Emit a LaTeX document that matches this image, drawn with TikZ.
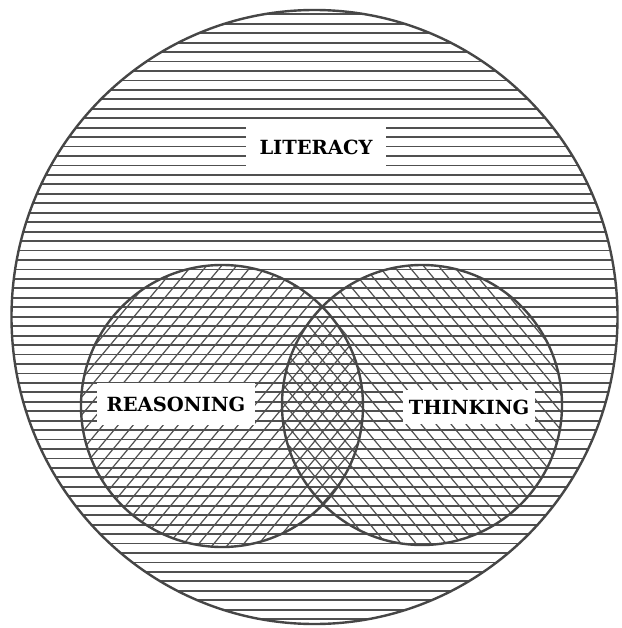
\documentclass[tikz,border=0pt]{standalone}
\usepackage{fontspec}
\setmainfont{DejaVu Serif}
\definecolor{hatch}{RGB}{80,80,80}
\definecolor{rimc}{RGB}{70,70,70}
\tikzset{
  hline/.style={draw=hatch, line width=1.8pt},
  dline/.style={draw=hatch, line width=1.2pt},
  rim/.style={draw=rimc, line width=2.4pt},
  setlabel/.style={fill=white, inner sep=0pt, text=black,
    font=\fontsize{19.5}{20}\selectfont\bfseries},
}
\begin{document}
\begin{tikzpicture}[x=1pt,y=-1pt]
\path[use as bounding box, fill=white] (0,0) rectangle (621,628);
% horizontal hatching inside the large circle
\begin{scope}
  \clip (314.5,317) ellipse [x radius=303, y radius=307];
  \foreach \k in {-27,...,39} \draw[hline] (0,{260+9.45*\k}) -- (621,{260+9.45*\k});
\end{scope}
% left circle hatching "/"
\begin{scope}
  \clip (222,406) circle [radius=141];
  \foreach \c in {-60,-45,...,510} \draw[dline] ({\c-134},565) -- ({\c+134},245);
\end{scope}
% right circle hatching "\"
\begin{scope}
  \clip (422,405) circle [radius=140];
  \foreach \c in {150,165,...,705} \draw[dline] ({\c+134},565) -- ({\c-134},245);
\end{scope}
% outlines
\draw[rim] (314.5,317) ellipse [x radius=303, y radius=307];
\draw[rim] (222,406) circle [radius=141];
\draw[rim] (422,405) circle [radius=140];
% labels
\node[setlabel, minimum width=140pt, minimum height=40pt] (literacy) at (316,147) {LITERACY};
\node[setlabel, minimum width=158pt, minimum height=42pt] (reasoning) at (176,404) {REASONING};
\node[setlabel, minimum width=132pt, minimum height=34pt] (thinking) at (469,407) {THINKING};
\end{tikzpicture}
\end{document}
